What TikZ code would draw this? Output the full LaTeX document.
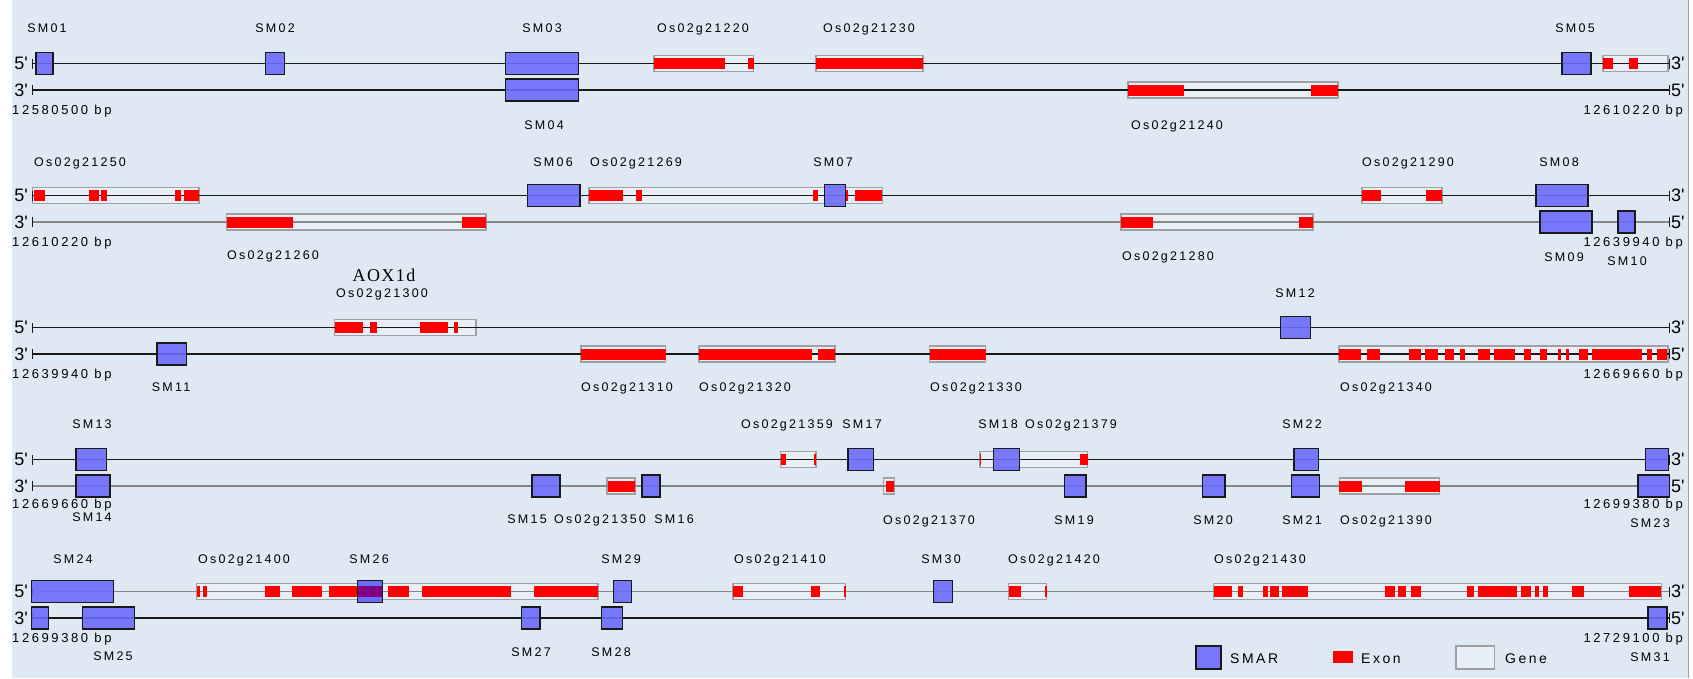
\documentclass[tikz,border=0pt]{standalone}
\usepackage{fontspec}
\newfontfamily\labfont{Liberation Sans}[LetterSpace=18]
\newfontfamily\bpfont{Liberation Sans}[LetterSpace=20]
\newfontfamily\endfont{Liberation Sans}
\newfontfamily\aoxfont{Liberation Serif}[LetterSpace=8]
\definecolor{bgc}{RGB}{223,233,244}
\definecolor{smarc}{RGB}{108,108,250}
\definecolor{genec}{RGB}{160,160,160}
\definecolor{linec}{RGB}{25,25,25}
\definecolor{glinec}{RGB}{135,135,135}
\definecolor{purp}{RGB}{128,0,128}
\newcommand\smr[3]{\path[smarbox] (#1,#3-11) rectangle (#2,#3+11);}
\newcommand\gen[3]{\path[genebox] (#1,#3-8) rectangle (#2,#3+8);}
\newcommand\exn[3]{\fill[red] (#1,#3-5.5) rectangle (#2,#3+5.5);}
\newcommand\tlab[4]{\node[lbl] (#1) at (#2,#3+4.5) {#4};}
\newcommand\strandline[2]{\draw[#2] (32.5,#1) -- (1669,#1); \draw[linec,line width=1pt] (32.5,#1-5) -- (32.5,#1+5); \draw[linec,line width=1pt] (1669,#1-5) -- (1669,#1+5);}
\begin{document}
\begin{tikzpicture}[x=1pt,y=-1pt,
  smarbox/.style={fill=smarc,fill opacity=0.9,draw=linec,line width=1.1pt},
  genebox/.style={draw=genec,fill=white,fill opacity=0.3,line width=1.1pt},
  bstrand/.style={draw=linec,line width=1.1pt},
  gstrand/.style={draw=glinec,line width=1.4pt},
  lbl/.style={font=\labfont\fontsize{12.5}{14}\selectfont,inner sep=0pt,anchor=base},
  bpl/.style={font=\bpfont\fontsize{13}{15}\selectfont,inner sep=0pt},
  endl/.style={font=\endfont\fontsize{18}{20}\selectfont,inner sep=0pt},
  legl/.style={font=\labfont\fontsize{14}{16}\selectfont,inner sep=0pt,anchor=base west}]
\useasboundingbox (0,0) rectangle (1693,678);
\fill[white] (0,0) rectangle (1693,678);
\fill[bgc] (12,0) rectangle (1688.5,678);
\draw[genec,line width=1pt] (1688.5,0) -- (1688.5,678);

% ---------------- Row 1 ----------------
\gen{654}{753.5}{63.5}
\gen{816}{923}{63.5}
\gen{1603}{1668}{63.5}
\gen{1128}{1338}{90}
\strandline{63.5}{bstrand}
\strandline{90}{bstrand}
\exn{654}{724.8}{63.5}\exn{748}{753.5}{63.5}
\exn{816}{923}{63.5}
\exn{1603}{1613}{63.5}\exn{1629}{1637.5}{63.5}
\exn{1128}{1184}{90}\exn{1310.6}{1338}{90}
\smr{36}{53}{63.5}
\smr{265.6}{284.6}{63.5}
\smr{505.8}{578.4}{63.5}
\smr{505.8}{578.4}{90}
\smr{1562}{1591}{63.5}
\node[endl,anchor=base east] (r1l5) at (28,63.5+6.3) {5\textquotesingle};
\node[endl,anchor=base east] (r1l3) at (28,90+6.3) {3\textquotesingle};
\node[endl,anchor=base west] (r1r3) at (1671,63.5+6.3) {3\textquotesingle};
\node[endl,anchor=base west] (r1r5) at (1671,90+6.3) {5\textquotesingle};
\tlab{sm01}{47}{28}{SM01}
\tlab{sm02}{275}{28}{SM02}
\tlab{sm03}{542}{28}{SM03}
\tlab{g21220}{703}{28}{Os02g21220}
\tlab{g21230}{869}{28}{Os02g21230}
\tlab{sm05}{1575}{28}{SM05}
\tlab{sm04}{544}{125}{SM04}
\tlab{g21240}{1177}{125}{Os02g21240}
\node[bpl,anchor=base west] (bp1l) at (12,110+4.6) {12580500 bp};
\node[bpl,anchor=base east] (bp1r) at (1683,110+4.6) {12610220 bp};

% ---------------- Row 2 ----------------
\gen{32.5}{199}{195.5}
\gen{589}{882.4}{195.5}
\gen{1362}{1442}{195.5}
\gen{226.6}{486}{222}
\gen{1121}{1313}{222}
\strandline{195.5}{bstrand}
\strandline{222}{gstrand}
\exn{33.6}{44.5}{195.5}\exn{89.4}{98.7}{195.5}\exn{101.4}{107.3}{195.5}\exn{174.6}{180.5}{195.5}\exn{184.3}{199}{195.5}
\exn{589}{623.4}{195.5}\exn{636}{642.4}{195.5}\exn{813}{817.5}{195.5}\exn{845}{848}{195.5}\exn{855}{882.4}{195.5}
\exn{1362}{1381}{195.5}\exn{1426}{1442}{195.5}
\exn{226.6}{292.7}{222}\exn{462.4}{486}{222}
\exn{1121}{1153}{222}\exn{1298.6}{1313}{222}
\smr{527.5}{580}{195.5}
\smr{824.5}{845.7}{195.5}
\smr{1536}{1588}{195.5}
\smr{1540}{1592}{222}
\smr{1618}{1635}{222}
\node[endl,anchor=base east] (r2l5) at (28,195.5+6.3) {5\textquotesingle};
\node[endl,anchor=base east] (r2l3) at (28,222+6.3) {3\textquotesingle};
\node[endl,anchor=base west] (r2r3) at (1671,195.5+6.3) {3\textquotesingle};
\node[endl,anchor=base west] (r2r5) at (1671,222+6.3) {5\textquotesingle};
\tlab{g21250}{80}{162}{Os02g21250}
\tlab{sm06}{553}{162}{SM06}
\tlab{g21269}{636}{162}{Os02g21269}
\tlab{sm07}{833}{162}{SM07}
\tlab{g21290}{1408}{162}{Os02g21290}
\tlab{sm08}{1559}{162}{SM08}
\tlab{g21260}{273}{255}{Os02g21260}
\tlab{g21280}{1168}{256}{Os02g21280}
\tlab{sm09}{1564}{257}{SM09}
\tlab{sm10}{1627}{261}{SM10}
\node[bpl,anchor=base west] (bp2l) at (12,242+4.6) {12610220 bp};
\node[bpl,anchor=base east] (bp2r) at (1683,242+4.6) {12639940 bp};

% ---------------- Row 3 ----------------
\gen{334.5}{476}{327.5}
\gen{581}{665.7}{354}
\gen{699}{835}{354}
\gen{929.8}{985.8}{354}
\gen{1339}{1668}{354}
\strandline{327.5}{bstrand}
\strandline{354}{bstrand}
\exn{334.5}{363}{327.5}\exn{370}{377}{327.5}\exn{420}{448}{327.5}\exn{453.7}{458}{327.5}
\exn{581}{665.7}{354}
\exn{699}{812}{354}\exn{817.5}{835}{354}
\exn{929.8}{985.8}{354}
\exn{1339.4}{1361.2}{354}\exn{1366.6}{1380.2}{354}\exn{1408.5}{1421}{354}\exn{1424.8}{1438.4}{354}
\exn{1445}{1453.6}{354}\exn{1460}{1464.5}{354}\exn{1478}{1490}{354}\exn{1494.4}{1514.6}{354}
\exn{1523.8}{1530.9}{354}\exn{1540}{1547}{354}\exn{1558}{1560.8}{354}\exn{1566}{1569}{354}
\exn{1578.8}{1588}{354}\exn{1592.4}{1642.4}{354}\exn{1646.8}{1652}{354}\exn{1657}{1667}{354}
\smr{1280.6}{1310.6}{327.5}
\smr{157}{186.5}{354}
\node[endl,anchor=base east] (r3l5) at (28,327.5+6.3) {5\textquotesingle};
\node[endl,anchor=base east] (r3l3) at (28,354+6.3) {3\textquotesingle};
\node[endl,anchor=base west] (r3r3) at (1671,327.5+6.3) {3\textquotesingle};
\node[endl,anchor=base west] (r3r5) at (1671,354+6.3) {5\textquotesingle};
\node[font=\aoxfont\fontsize{18}{20}\selectfont,inner sep=0pt,anchor=base] (aox) at (384,275+6) {AOX1d};
\tlab{g21300}{382}{293}{Os02g21300}
\tlab{sm12}{1295}{293}{SM12}
\tlab{sm11}{171}{387}{SM11}
\tlab{g21310}{627}{387}{Os02g21310}
\tlab{g21320}{745}{387}{Os02g21320}
\tlab{g21330}{976}{387}{Os02g21330}
\tlab{g21340}{1386}{387}{Os02g21340}
\node[bpl,anchor=base west] (bp3l) at (12,374+4.6) {12639940 bp};
\node[bpl,anchor=base east] (bp3r) at (1683,374+4.6) {12669660 bp};

% ---------------- Row 4 ----------------
\gen{780.6}{816}{459.5}
\gen{980}{1087.5}{459.5}
\gen{607}{635}{486}
\gen{883.5}{894.4}{486}
\gen{1339.4}{1439.5}{486}
\strandline{459.5}{bstrand}
\strandline{486}{gstrand}
\exn{780.6}{786}{459.5}\exn{814}{816}{459.5}
\exn{980}{981.4}{459.5}\exn{1080}{1087.5}{459.5}
\exn{608}{635}{486}
\exn{886}{894.4}{486}
\exn{1339.4}{1362.2}{486}\exn{1404.7}{1439.5}{486}
\smr{76}{106.8}{459.5}
\smr{848}{873.7}{459.5}
\smr{993.4}{1019.5}{459.5}
\smr{1294}{1318.7}{459.5}
\smr{1645.7}{1668.5}{459.5}
\smr{76}{110}{486}
\smr{532}{560}{486}
\smr{642}{660}{486}
\smr{1064.7}{1086}{486}
\smr{1202.8}{1225}{486}
\smr{1291.5}{1319.8}{486}
\smr{1638}{1669.6}{486}
\node[endl,anchor=base east] (r4l5) at (28,459.5+6.3) {5\textquotesingle};
\node[endl,anchor=base east] (r4l3) at (28,486+6.3) {3\textquotesingle};
\node[endl,anchor=base west] (r4r3) at (1671,459.5+6.3) {3\textquotesingle};
\node[endl,anchor=base west] (r4r5) at (1671,486+6.3) {5\textquotesingle};
\tlab{sm13}{92}{424}{SM13}
\tlab{g21359}{787}{424}{Os02g21359}
\tlab{sm17}{862}{424}{SM17}
\tlab{sm18}{998}{424}{SM18}
\tlab{g21379}{1071}{424}{Os02g21379}
\tlab{sm22}{1302}{424}{SM22}
\tlab{sm14}{92}{517}{SM14}
\tlab{sm15}{527}{519}{SM15}
\tlab{g21350}{600}{519}{Os02g21350}
\tlab{sm16}{674}{519}{SM16}
\tlab{g21370}{929}{520}{Os02g21370}
\tlab{sm19}{1074}{520}{SM19}
\tlab{sm20}{1213}{520}{SM20}
\tlab{sm21}{1302}{520}{SM21}
\tlab{g21390}{1386}{520}{Os02g21390}
\tlab{sm23}{1650}{523}{SM23}
\node[bpl,anchor=base west] (bp4l) at (12,504+4.6) {12669660 bp};
\node[bpl,anchor=base east] (bp4r) at (1683,504+4.6) {12699380 bp};

% ---------------- Row 5 ----------------
\gen{196.8}{598}{591.5}
\gen{733}{845.4}{591.5}
\gen{1008.6}{1046.7}{591.5}
\gen{1213.7}{1661.4}{591.5}
\strandline{591.5}{gstrand}
\strandline{618}{bstrand}
\exn{196.8}{199.5}{591.5}\exn{203.3}{207}{591.5}\exn{264.5}{280.3}{591.5}\exn{291.6}{321.5}{591.5}
\exn{328.5}{382.7}{591.5}\exn{388}{409.3}{591.5}\exn{421.8}{510.7}{591.5}\exn{534}{598}{591.5}
\exn{733}{742.7}{591.5}\exn{810.5}{819.6}{591.5}\exn{844.4}{846}{591.5}
\exn{1008.6}{1021}{591.5}\exn{1045.4}{1046.7}{591.5}
\exn{1213.7}{1231.7}{591.5}\exn{1237.7}{1242.6}{591.5}\exn{1262.7}{1268}{591.5}\exn{1269.8}{1279}{591.5}
\exn{1281.7}{1307.8}{591.5}\exn{1385}{1394.9}{591.5}\exn{1397.6}{1405.8}{591.5}\exn{1411}{1421}{591.5}
\exn{1467}{1473.8}{591.5}\exn{1478}{1517}{591.5}\exn{1521}{1530.9}{591.5}\exn{1534.7}{1539}{591.5}
\exn{1543.4}{1548.3}{591.5}\exn{1571.7}{1583.6}{591.5}\exn{1628.8}{1661.4}{591.5}
\smr{31.4}{113.8}{591.5}
\fill[smarc] (357.8,591.5-11) rectangle (382.7,591.5+11);
\fill[purp] (357.8,591.5-5.5) rectangle (382.7,591.5+5.5);
\draw[linec,line width=1.1pt] (357.8,591.5-11) rectangle (382.7,591.5+11);
\smr{613.7}{631.6}{591.5}
\smr{933.6}{952.6}{591.5}
\smr{31.4}{48.8}{618}
\smr{82.4}{134.4}{618}
\smr{521.5}{540}{618}
\smr{601.7}{622.3}{618}
\smr{1648}{1667}{618}
\node[endl,anchor=base east] (r5l5) at (28,591.5+6.3) {5\textquotesingle};
\node[endl,anchor=base east] (r5l3) at (28,618+6.3) {3\textquotesingle};
\node[endl,anchor=base west] (r5r3) at (1671,591.5+6.3) {3\textquotesingle};
\node[endl,anchor=base west] (r5r5) at (1671,618+6.3) {5\textquotesingle};
\tlab{sm24}{73}{559}{SM24}
\tlab{g21400}{244}{559}{Os02g21400}
\tlab{sm26}{369}{559}{SM26}
\tlab{sm29}{621}{559}{SM29}
\tlab{g21410}{780}{559}{Os02g21410}
\tlab{sm30}{941}{559}{SM30}
\tlab{g21420}{1054}{559}{Os02g21420}
\tlab{g21430}{1260}{559}{Os02g21430}
\tlab{sm25}{113}{656}{SM25}
\tlab{sm27}{531}{652}{SM27}
\tlab{sm28}{611}{652}{SM28}
\tlab{sm31}{1650}{657}{SM31}
\node[bpl,anchor=base west] (bp5l) at (12,638+4.6) {12699380 bp};
\node[bpl,anchor=base east] (bp5r) at (1683,638+4.6) {12729100 bp};

% ---------------- Legend ----------------
\path[smarbox] (1196,646) rectangle (1221,669);
\node[legl] (legsmar) at (1230,658+5) {SMAR};
\fill[red] (1333,651) rectangle (1352.5,662.5);
\node[legl] (legexon) at (1361,658+5) {Exon};
\draw[genec,fill=white,fill opacity=0.3,line width=1.3pt] (1456,646) rectangle (1494.5,669);
\node[legl] (leggene) at (1505,658+5) {Gene};
\end{tikzpicture}
\end{document}
